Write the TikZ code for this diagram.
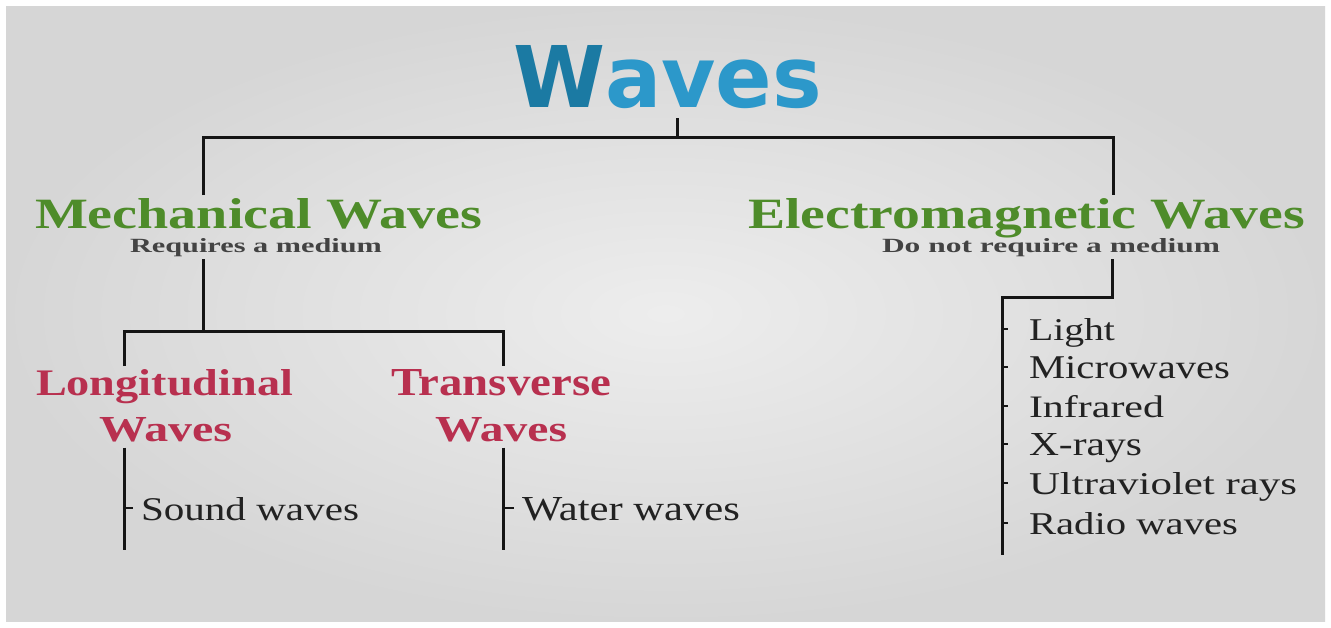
\documentclass[tikz,border=0pt]{standalone}
\usepackage{fontspec}
\setmainfont{Liberation Serif}
\newfontfamily\titlefont{DejaVu Sans}
\usetikzlibrary{calc}
\definecolor{titleblue}{HTML}{2C98CA}
\definecolor{titledark}{HTML}{1B7AA3}
\definecolor{mgreen}{HTML}{4E8C2A}
\definecolor{wred}{HTML}{B8304F}
\definecolor{ink}{HTML}{222222}
\definecolor{linec}{HTML}{151515}
\newcommand{\fitbox}[3]{\resizebox{#1pt}{#2pt}{#3}}
\begin{document}
\begin{tikzpicture}[x=1pt,y=-1pt,
  conn/.style={draw=linec,line width=3pt},
  tickline/.style={draw=linec,line width=2pt},
  lbl/.style={inner sep=0pt,outer sep=0pt,anchor=base west},
  head/.style={lbl,text=mgreen,font=\bfseries},
  sub/.style={lbl,text=ink!85,font=\bfseries},
  kind/.style={lbl,text=wred,font=\bfseries},
  item/.style={lbl,text=ink}]
\path[use as bounding box] (0,0) rectangle (1331,627);
\fill[white] (0,0) rectangle (1331,627);
\shade[inner color=gray!14,outer color=gray!32] (6,6) rectangle (1325,621);

% texts
\node[lbl] (t) at (513,107) {\fitbox{309}{62}{\titlefont\bfseries\textcolor{titledark}{W}\textcolor{titleblue}{aves}}};
\node[head] (m) at (35,228) {\fitbox{447}{30}{Mechanical Waves}};
\node[sub] (ms) at (130,252) {\fitbox{252}{14}{Requires a medium}};
\node[head] (e) at (748,228) {\fitbox{557}{30}{Electromagnetic Waves}};
\node[sub] (es) at (882,252) {\fitbox{338}{14}{Do not require a medium}};
\node[kind] (lg) at (36,395) {\fitbox{257}{26}{Longitudinal}};
\node[kind] (lw) at (99,441) {\fitbox{133}{24}{Waves}};
\node[kind] (tr) at (391,395) {\fitbox{220}{26}{Transverse}};
\node[kind] (tw) at (435,441) {\fitbox{132}{24}{Waves}};
\node[item] (sw) at (141,520) {\fitbox{218}{23}{Sound waves}};
\node[item] (ww) at (522,520) {\fitbox{218}{23}{Water waves}};
\node[item] (i1) at (1029,340) {\fitbox{86}{22}{Light}};
\node[item] (i2) at (1029,378) {\fitbox{201}{22}{Microwaves}};
\node[item] (i3) at (1029,417) {\fitbox{135}{22}{Infrared}};
\node[item] (i4) at (1029,455) {\fitbox{113}{22}{X-rays}};
\node[item] (i5) at (1029,494) {\fitbox{268}{22}{Ultraviolet rays}};
\node[item] (i6) at (1029,534) {\fitbox{209}{22}{Radio waves}};

% junction coordinates
\coordinate (J0) at (677,137);
\coordinate (JL) at (203,137);
\coordinate (JR) at (1113,137);
\coordinate (JM) at (203,331);
\coordinate (JLL) at (124,331);
\coordinate (JLR) at (503,331);
\coordinate (LB) at (124,550);
\coordinate (TB) at (503,550);
\coordinate (JE) at (1112,297);
\coordinate (JEL) at (1002,297);
\coordinate (EB) at (1002,555);

% connectors
\draw[conn] ($(J0|-t.south)+(0,10)$) -- (J0);
\draw[conn] ($(JL|-m.north)+(0,-3)$) -- (JL) -- (JR) -- ($(JR|-e.north)+(0,-3)$);
\draw[conn] ($(JM|-ms.south)+(0,3)$) -- (JM);
\draw[conn] ($(JLL|-lg.north)+(0,-3)$) -- (JLL) -- (JLR) -- ($(JLR|-tr.north)+(0,-3)$);
\draw[conn] ($(LB|-lw.south)+(0,6)$) -- (LB);
\draw[tickline] ($(LB|-sw.base west)+(0,-12)$) -- ($(sw.base west)+(-8,-12)$);
\draw[conn] ($(TB|-tw.south)+(0,6)$) -- (TB);
\draw[tickline] ($(TB|-ww.base west)+(0,-12)$) -- ($(ww.base west)+(-8,-12)$);
\draw[conn] ($(JE|-es.south)+(0,3)$) -- (JE) -- (JEL) -- (EB);
\foreach \n in {i1,i2,i3,i4,i5,i6}
  \draw[tickline] ($(EB|-\n.base west)+(0,-11)$) -- ($(\n.base west)+(-21,-11)$);
\end{tikzpicture}
\end{document}
